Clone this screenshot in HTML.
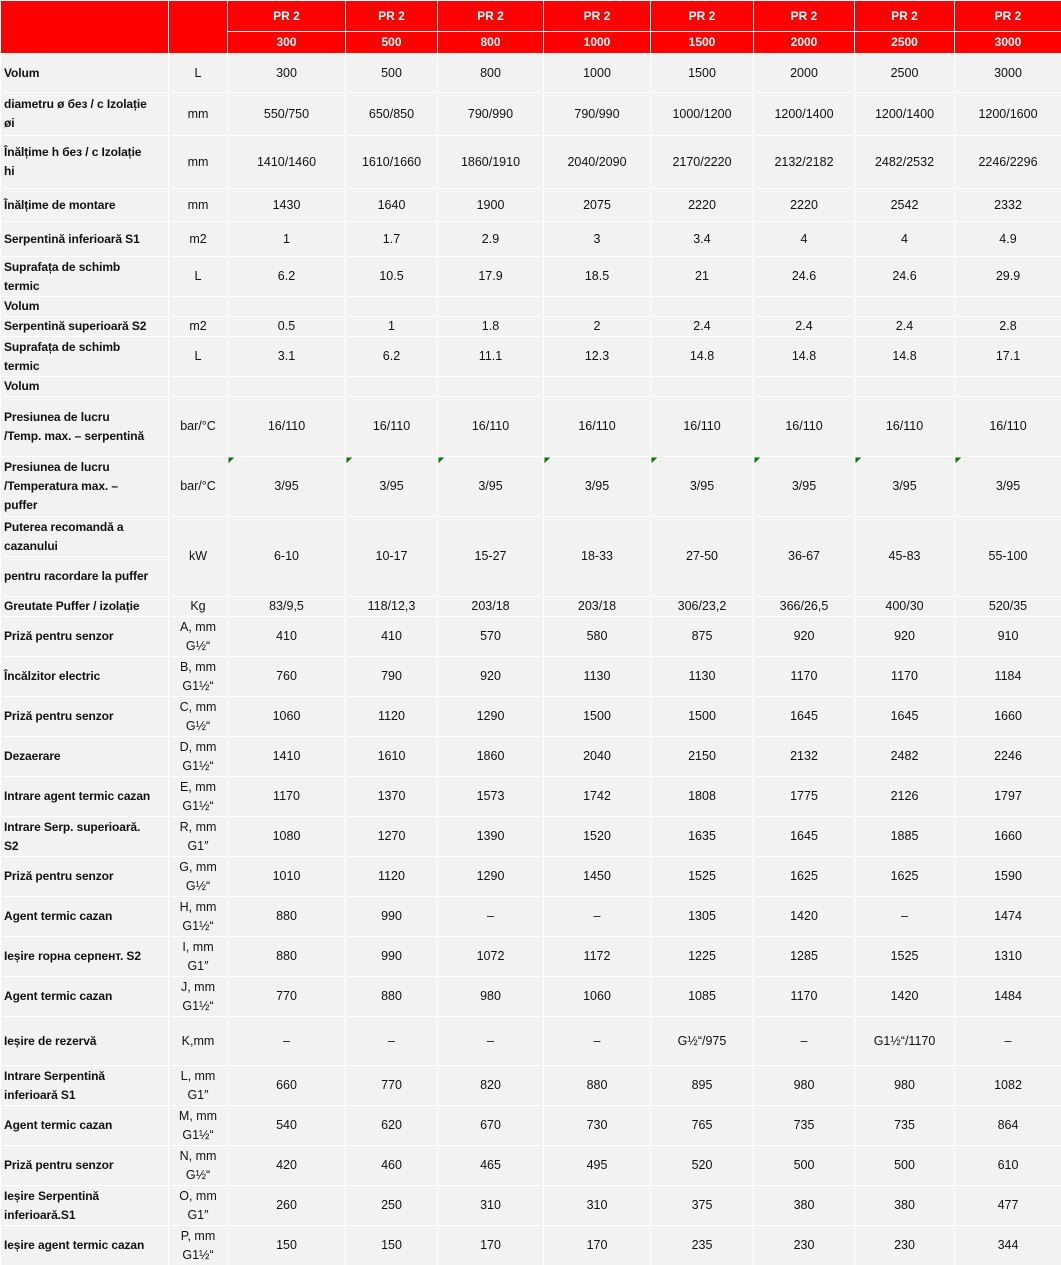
<!DOCTYPE html>
<html><head><meta charset="utf-8"><style>
html,body{margin:0;padding:0;background:#f2f2f2;width:1061px;height:1265px;overflow:hidden}
table{border-collapse:collapse;table-layout:fixed;width:1061px;font-family:"Liberation Sans",sans-serif;font-size:12.5px;color:#111}
td{border:1px solid #fff;padding:0 2px;text-align:center;vertical-align:middle;line-height:19px;background:#f2f2f2;overflow:hidden;white-space:nowrap}
td.l{text-align:left;font-weight:bold;padding-left:3px;font-size:12px;letter-spacing:-0.1px}
tr.h td{background:#ff0000;color:#fff;font-weight:bold;font-size:12px}
td.g{background:linear-gradient(135deg,#0a7a0a 4px,#f2f2f2 4px)}
</style></head><body>
<table>
<colgroup><col style="width:168px"><col style="width:59px"><col style="width:118px"><col style="width:92px"><col style="width:106px"><col style="width:107px"><col style="width:103px"><col style="width:101px"><col style="width:100px"><col style="width:107px"></colgroup>
<tr class="h" style="height:31px"><td rowspan="2"></td><td rowspan="2"></td><td>PR 2</td><td>PR 2</td><td>PR 2</td><td>PR 2</td><td>PR 2</td><td>PR 2</td><td>PR 2</td><td>PR 2</td></tr>
<tr class="h" style="height:22px"><td>300</td><td>500</td><td>800</td><td>1000</td><td>1500</td><td>2000</td><td>2500</td><td>3000</td></tr>
<tr style="height:39px"><td class="l">Volum</td><td>L</td><td>300</td><td>500</td><td>800</td><td>1000</td><td>1500</td><td>2000</td><td>2500</td><td>3000</td></tr>
<tr style="height:43px"><td class="l">diametru ø без / c Izolație<br>øi</td><td>mm</td><td>550/750</td><td>650/850</td><td>790/990</td><td>790/990</td><td>1000/1200</td><td>1200/1400</td><td>1200/1400</td><td>1200/1600</td></tr>
<tr style="height:53px"><td class="l">Înălțime h без / c Izolație<br>hi</td><td>mm</td><td>1410/1460</td><td>1610/1660</td><td>1860/1910</td><td>2040/2090</td><td>2170/2220</td><td>2132/2182</td><td>2482/2532</td><td>2246/2296</td></tr>
<tr style="height:33px"><td class="l">Înălțime de montare</td><td>mm</td><td>1430</td><td>1640</td><td>1900</td><td>2075</td><td>2220</td><td>2220</td><td>2542</td><td>2332</td></tr>
<tr style="height:35px"><td class="l">Serpentină inferioară S1</td><td>m2</td><td>1</td><td>1.7</td><td>2.9</td><td>3</td><td>3.4</td><td>4</td><td>4</td><td>4.9</td></tr>
<tr style="height:40px"><td class="l">Suprafața de schimb<br>termic</td><td>L</td><td>6.2</td><td>10.5</td><td>17.9</td><td>18.5</td><td>21</td><td>24.6</td><td>24.6</td><td>29.9</td></tr>
<tr style="height:19px"><td class="l">Volum</td><td></td><td></td><td></td><td></td><td></td><td></td><td></td><td></td><td></td></tr>
<tr style="height:20px"><td class="l">Serpentină superioară S2</td><td>m2</td><td>0.5</td><td>1</td><td>1.8</td><td>2</td><td>2.4</td><td>2.4</td><td>2.4</td><td>2.8</td></tr>
<tr style="height:40px"><td class="l">Suprafața de schimb<br>termic</td><td>L</td><td>3.1</td><td>6.2</td><td>11.1</td><td>12.3</td><td>14.8</td><td>14.8</td><td>14.8</td><td>17.1</td></tr>
<tr style="height:20px"><td class="l">Volum</td><td></td><td></td><td></td><td></td><td></td><td></td><td></td><td></td><td></td></tr>
<tr style="height:60px"><td class="l">Presiunea de lucru<br>/Temp. max. – serpentină</td><td>bar/°C</td><td>16/110</td><td>16/110</td><td>16/110</td><td>16/110</td><td>16/110</td><td>16/110</td><td>16/110</td><td>16/110</td></tr>
<tr style="height:60px"><td class="l">Presiunea de lucru<br>/Temperatura max. –<br>puffer</td><td>bar/°C</td><td class="g">3/95</td><td class="g">3/95</td><td class="g">3/95</td><td class="g">3/95</td><td class="g">3/95</td><td class="g">3/95</td><td class="g">3/95</td><td class="g">3/95</td></tr>
<tr style="height:40px"><td class="l">Puterea recomandă a<br>cazanului</td><td rowspan="2">kW</td><td rowspan="2">6-10</td><td rowspan="2">10-17</td><td rowspan="2">15-27</td><td rowspan="2">18-33</td><td rowspan="2">27-50</td><td rowspan="2">36-67</td><td rowspan="2">45-83</td><td rowspan="2">55-100</td></tr>
<tr style="height:40px"><td class="l">pentru racordare la puffer</td></tr>
<tr style="height:20px"><td class="l">Greutate Puffer / izolație</td><td>Kg</td><td>83/9,5</td><td>118/12,3</td><td>203/18</td><td>203/18</td><td>306/23,2</td><td>366/26,5</td><td>400/30</td><td>520/35</td></tr>
<tr style="height:40px"><td class="l">Priză pentru senzor</td><td>A, mm<br>G½“</td><td>410</td><td>410</td><td>570</td><td>580</td><td>875</td><td>920</td><td>920</td><td>910</td></tr>
<tr style="height:40px"><td class="l">Încălzitor electric</td><td>B, mm<br>G1½“</td><td>760</td><td>790</td><td>920</td><td>1130</td><td>1130</td><td>1170</td><td>1170</td><td>1184</td></tr>
<tr style="height:40px"><td class="l">Priză pentru senzor</td><td>C, mm<br>G½“</td><td>1060</td><td>1120</td><td>1290</td><td>1500</td><td>1500</td><td>1645</td><td>1645</td><td>1660</td></tr>
<tr style="height:40px"><td class="l">Dezaerare</td><td>D, mm<br>G1½“</td><td>1410</td><td>1610</td><td>1860</td><td>2040</td><td>2150</td><td>2132</td><td>2482</td><td>2246</td></tr>
<tr style="height:40px"><td class="l">Intrare agent termic cazan</td><td>E, mm<br>G1½“</td><td>1170</td><td>1370</td><td>1573</td><td>1742</td><td>1808</td><td>1775</td><td>2126</td><td>1797</td></tr>
<tr style="height:40px"><td class="l">Intrare Serp. superioară.<br>S2</td><td>R, mm<br>G1″</td><td>1080</td><td>1270</td><td>1390</td><td>1520</td><td>1635</td><td>1645</td><td>1885</td><td>1660</td></tr>
<tr style="height:40px"><td class="l">Priză pentru senzor</td><td>G, mm<br>G½“</td><td>1010</td><td>1120</td><td>1290</td><td>1450</td><td>1525</td><td>1625</td><td>1625</td><td>1590</td></tr>
<tr style="height:40px"><td class="l">Agent termic cazan</td><td>H, mm<br>G1½“</td><td>880</td><td>990</td><td>–</td><td>–</td><td>1305</td><td>1420</td><td>–</td><td>1474</td></tr>
<tr style="height:40px"><td class="l">Ieșire ropнa cepпeнт. S2</td><td>I, mm<br>G1″</td><td>880</td><td>990</td><td>1072</td><td>1172</td><td>1225</td><td>1285</td><td>1525</td><td>1310</td></tr>
<tr style="height:40px"><td class="l">Agent termic cazan</td><td>J, mm<br>G1½“</td><td>770</td><td>880</td><td>980</td><td>1060</td><td>1085</td><td>1170</td><td>1420</td><td>1484</td></tr>
<tr style="height:49px"><td class="l">Ieșire de rezervă</td><td>K,mm</td><td>–</td><td>–</td><td>–</td><td>–</td><td>G½“/975</td><td>–</td><td>G1½“/1170</td><td>–</td></tr>
<tr style="height:40px"><td class="l">Intrare Serpentină<br>inferioară S1</td><td>L, mm<br>G1″</td><td>660</td><td>770</td><td>820</td><td>880</td><td>895</td><td>980</td><td>980</td><td>1082</td></tr>
<tr style="height:40px"><td class="l">Agent termic cazan</td><td>M, mm<br>G1½“</td><td>540</td><td>620</td><td>670</td><td>730</td><td>765</td><td>735</td><td>735</td><td>864</td></tr>
<tr style="height:40px"><td class="l">Priză pentru senzor</td><td>N, mm<br>G½“</td><td>420</td><td>460</td><td>465</td><td>495</td><td>520</td><td>500</td><td>500</td><td>610</td></tr>
<tr style="height:40px"><td class="l">Ieșire Serpentină<br>inferioară.S1</td><td>O, mm<br>G1″</td><td>260</td><td>250</td><td>310</td><td>310</td><td>375</td><td>380</td><td>380</td><td>477</td></tr>
<tr style="height:40px"><td class="l">Ieșire agent termic cazan</td><td>P, mm<br>G1½“</td><td>150</td><td>150</td><td>170</td><td>170</td><td>235</td><td>230</td><td>230</td><td>344</td></tr>
</table>
</body></html>
